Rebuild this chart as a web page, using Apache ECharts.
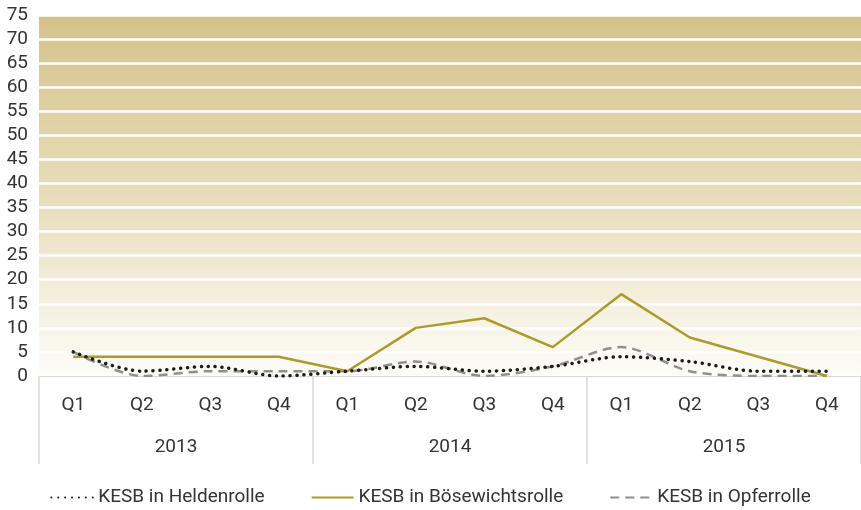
<!DOCTYPE html>
<html>
<head>
<meta charset="utf-8">
<script src="https://cdn.jsdelivr.net/npm/echarts@6/dist/echarts.min.js"></script>
<style>
  html, body { margin: 0; padding: 0; background: #fff; }
  #chart { width: 861px; height: 510px; }
</style>
</head>
<body>
<div id="chart"></div>
<script>
// Data
const quarters = ["Q1", "Q2", "Q3", "Q4", "Q1", "Q2", "Q3", "Q4", "Q1", "Q2", "Q3", "Q4"];
const years = ["2013", "2014", "2015"];
const heldenrolle = [5, 1, 2, 0, 1, 2, 1, 2, 4, 3, 1, 1];
const boesewichtsrolle = [4, 4, 4, 4, 1, 10, 12, 6, 17, 8, 4, 0];
const opferrolle = [5, 0, 1, 1, 1, 3, 0, 2, 6, 1, 0, 0];

const FONT = "Roboto, 'DejaVu Sans', sans-serif";
const TEXT = "#333333";

const chart = echarts.init(document.getElementById("chart"));

const option = {
  animation: false,
  textStyle: { fontFamily: FONT },
  grid: {
    left: 39,
    right: 0,
    top: 15,
    bottom: 134,
    show: true,
    borderWidth: 0,
    backgroundColor: {
      type: "linear", x: 0, y: 0, x2: 0, y2: 1,
      colorStops: [
        { offset: 0, color: "#d3c289" },
        { offset: 0.5, color: "#e8ddba" },
        { offset: 1, color: "#fdfcf8" }
      ]
    }
  },
  legend: {
    bottom: -2,
    left: "center",
    itemWidth: 42,
    itemHeight: 12,
    itemGap: 46,
    itemStyle: { opacity: 0 },
    textStyle: { fontFamily: FONT, fontSize: 19, color: TEXT },
    data: ["KESB in Heldenrolle", "KESB in Bösewichtsrolle", "KESB in Opferrolle"]
  },
  xAxis: [
    {
      type: "category",
      data: quarters,
      position: "bottom",
      axisLine: { show: true, lineStyle: { color: "#d9d9d9", width: 1 } },
      axisTick: { show: false },
      axisLabel: { color: TEXT, fontSize: 19, margin: 20, fontFamily: FONT }
    },
    {
      type: "category",
      data: years,
      position: "bottom",
      axisLine: { show: false },
      axisTick: { show: true, length: 88, alignWithLabel: false, lineStyle: { color: "#d9d9d9", width: 1.5 } },
      axisLabel: { color: TEXT, fontSize: 19, margin: 62, fontFamily: FONT }
    }
  ],
  yAxis: {
    type: "value",
    min: 0,
    max: 75,
    interval: 5,
    axisLine: { show: false },
    axisTick: { show: false },
    axisLabel: { color: TEXT, fontSize: 19, margin: 11, fontFamily: FONT },
    splitLine: { show: true, lineStyle: { color: "#ffffff", width: 2.5 } }
  },
  series: [
    {
      name: "KESB in Heldenrolle",
      type: "line",
      xAxisIndex: 0,
      data: heldenrolle,
      smooth: 0.3,
      symbol: "none",
      z: 4,
      lineStyle: { color: "#1c1c1c", width: 3.5, type: [0.1, 6.8], cap: "round" },
      itemStyle: { color: "#1c1c1c" }
    },
    {
      name: "KESB in Bösewichtsrolle",
      type: "line",
      xAxisIndex: 0,
      data: boesewichtsrolle,
      symbol: "none",
      z: 3,
      lineStyle: { color: "#ae9a2b", width: 2.5 },
      itemStyle: { color: "#ae9a2b" }
    },
    {
      name: "KESB in Opferrolle",
      type: "line",
      xAxisIndex: 0,
      data: opferrolle,
      smooth: 0.3,
      symbol: "none",
      z: 2,
      lineStyle: { color: "#8f8f8f", width: 2.5, type: [9, 6] },
      itemStyle: { color: "#8f8f8f" }
    }
  ]
};

chart.setOption(option);
</script>
</body>
</html>
